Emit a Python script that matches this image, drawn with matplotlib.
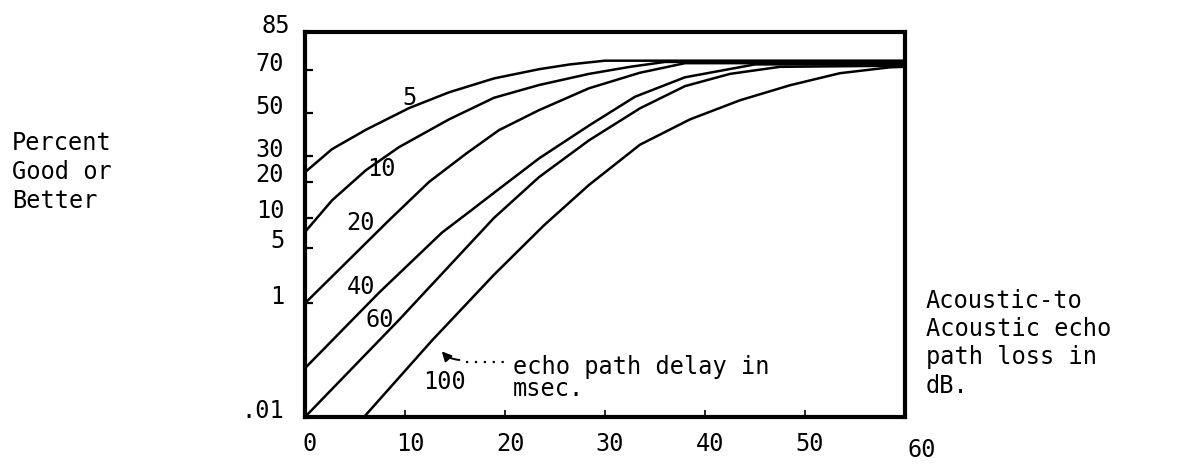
from statistics import NormalDist

import matplotlib

matplotlib.use("Agg")

import matplotlib.pyplot as plt
import matplotlib.transforms as mtransforms
import numpy as np


# echo path loss (dB) and percent good-or-better
DELAY_LABELS = ["5", "10", "20", "40", "60", "100"]

LOSS_5 = [0, 2.7, 6.1, 10.4, 14.4, 18.9, 23.4, 26.5, 30, 60]
PGOB_5 = [23.5, 33, 42, 52.5, 60.1, 66.5, 70.5, 72.5, 74, 74]

LOSS_10 = [0, 2.7, 6.1, 9.4, 14.4, 18.9, 23.4, 28.4, 32.5, 36, 60]
PGOB_10 = [7.3, 14.3, 24.3, 33.9, 47, 57.5, 63.5, 68.5, 71.5, 73.5, 73.5]

LOSS_20 = [0, 8.4, 12.4, 16.1, 19.4, 23.4, 28.4, 33.5, 38, 60]
PGOB_20 = [1.0, 9.5, 20, 31, 41.8, 51.5, 62, 69, 73, 73]

LOSS_40 = [0, 7.4, 13.7, 16.5, 18.9, 23.4, 28.4, 33, 38, 45, 60]
PGOB_40 = [0.09, 1.4, 7.2, 11.5, 16.5, 29, 44, 58, 67, 72.5, 72.5]

LOSS_60 = [0, 9.4, 18.9, 23.4, 28.4, 33.5, 38.0, 42.5, 47.5, 60]
PGOB_60 = [0.01, 0.57, 10, 21.7, 37, 52.4, 63, 68.5, 71.5, 72]

LOSS_100 = [5.9, 12.7, 18.9, 23.9, 28.4, 33.5, 38.5, 43.5, 48.5, 53.5, 58.5, 60]
PGOB_100 = [0.01, 0.27, 2.4, 8.5, 19, 35, 47, 56.3, 63.4, 68.8, 71.3, 71.5]

X_TICKS = [0, 10, 20, 30, 40, 50, 60]
Y_TICKS = [0.01, 1, 5, 10, 20, 30, 50, 70]
Y_TICK_LABELS = [".01", "1", "5", "10", "20", "30", "50", "70"]

FONT = "DejaVu Sans Mono"
FS = 17

_ND = NormalDist()
_ppf = np.vectorize(_ND.inv_cdf, otypes=[float])
_cdf = np.vectorize(_ND.cdf, otypes=[float])


def probit(p):
    p = np.clip(np.asarray(p, dtype=float) / 100.0, 1e-9, 1 - 1e-9)
    return _ppf(p)


def inv_probit(z):
    return _cdf(np.asarray(z, dtype=float)) * 100.0


def shift(fig, dx_px, dy_px):
    return mtransforms.ScaledTranslation(dx_px / 100, dy_px / 100,
                                         fig.dpi_scale_trans)


def main():
    plt.rcParams["font.family"] = [FONT, "DejaVu Sans"]
    fig = plt.figure(figsize=(11.81, 4.66), dpi=100)
    ax = fig.add_axes([305 / 1181, 1 - 417 / 466, 600 / 1181, 385 / 466])
    ax.set_yscale("function", functions=(probit, inv_probit))

    curves = [
        (LOSS_5, PGOB_5),
        (LOSS_10, PGOB_10),
        (LOSS_20, PGOB_20),
        (LOSS_40, PGOB_40),
        (LOSS_60, PGOB_60),
        (LOSS_100, PGOB_100),
    ]
    for loss, pgob in curves:
        ax.plot(loss, pgob, color="black", linewidth=1.8,
                solid_joinstyle="round", solid_capstyle="round",
                clip_on=False)

    ax.set_xlim(0, 60)
    ax.set_ylim(0.01, 84)
    ax.set_xticks(X_TICKS, [str(v) for v in X_TICKS])
    ax.set_yticks(Y_TICKS, Y_TICK_LABELS)
    ax.yaxis.set_minor_locator(matplotlib.ticker.NullLocator())
    ax.xaxis.set_minor_locator(matplotlib.ticker.NullLocator())
    ax.tick_params(axis="x", direction="in", length=5, width=1.2,
                   labelsize=FS, pad=11)
    ax.tick_params(axis="y", direction="in", length=6, width=1.6,
                   labelsize=FS, pad=15)
    for spine in ax.spines.values():
        spine.set_linewidth(3)

    # tick labels in the original sit slightly off their tick marks
    for lab in ax.get_yticklabels():
        lab.set_transform(lab.get_transform() + shift(fig, 0, 9))
    xlabs = ax.get_xticklabels()
    for lab in xlabs[:-1]:
        lab.set_transform(lab.get_transform() + shift(fig, 5, 0))
    xlabs[-1].set_transform(xlabs[-1].get_transform() + shift(fig, 17, -6))
    top_label = ax.text(-15 / 600, 1.0, "85", transform=ax.transAxes,
                        ha="right", va="center", fontsize=FS)
    top_label.set_transform(top_label.get_transform() + shift(fig, 0, 6))

    # delay labels on the curves
    label_pos = [(0.175, 0.829), (0.128, 0.644), (0.093, 0.504),
                 (0.093, 0.338), (0.125, 0.252), (0.233, 0.091)]
    for text, (lx, ly) in zip(DELAY_LABELS, label_pos):
        ax.text(lx, ly, text, transform=ax.transAxes, ha="center",
                va="center", fontsize=FS)

    ax.annotate("", xy=(0.225, 0.176), xytext=(0.262, 0.148),
                xycoords="axes fraction", textcoords="axes fraction",
                arrowprops=dict(arrowstyle="-|>", color="black", lw=1.4,
                                mutation_scale=14,
                                connectionstyle="arc3,rad=-0.25"))
    ax.plot([0.268, 0.335], [0.143, 0.143], transform=ax.transAxes,
            color="black", linestyle=(0, (1, 3)), linewidth=1.6)
    ax.text(0.347, 0.160, "echo path delay in\nmsec.", transform=ax.transAxes,
            ha="left", va="top", fontsize=FS, linespacing=0.85)

    fig.text(12 / 1181, 1 - 131 / 466, "Percent\nGood or\nBetter",
             ha="left", va="top", fontsize=FS, linespacing=1.26)
    fig.text(926 / 1181, 1 - 289 / 466,
             "Acoustic-to\nAcoustic echo\npath loss in\ndB.",
             ha="left", va="top", fontsize=FS, linespacing=1.22)

    fig.savefig("out.png", dpi=100, facecolor="white")
    plt.close(fig)


if __name__ == "__main__":
    main()
